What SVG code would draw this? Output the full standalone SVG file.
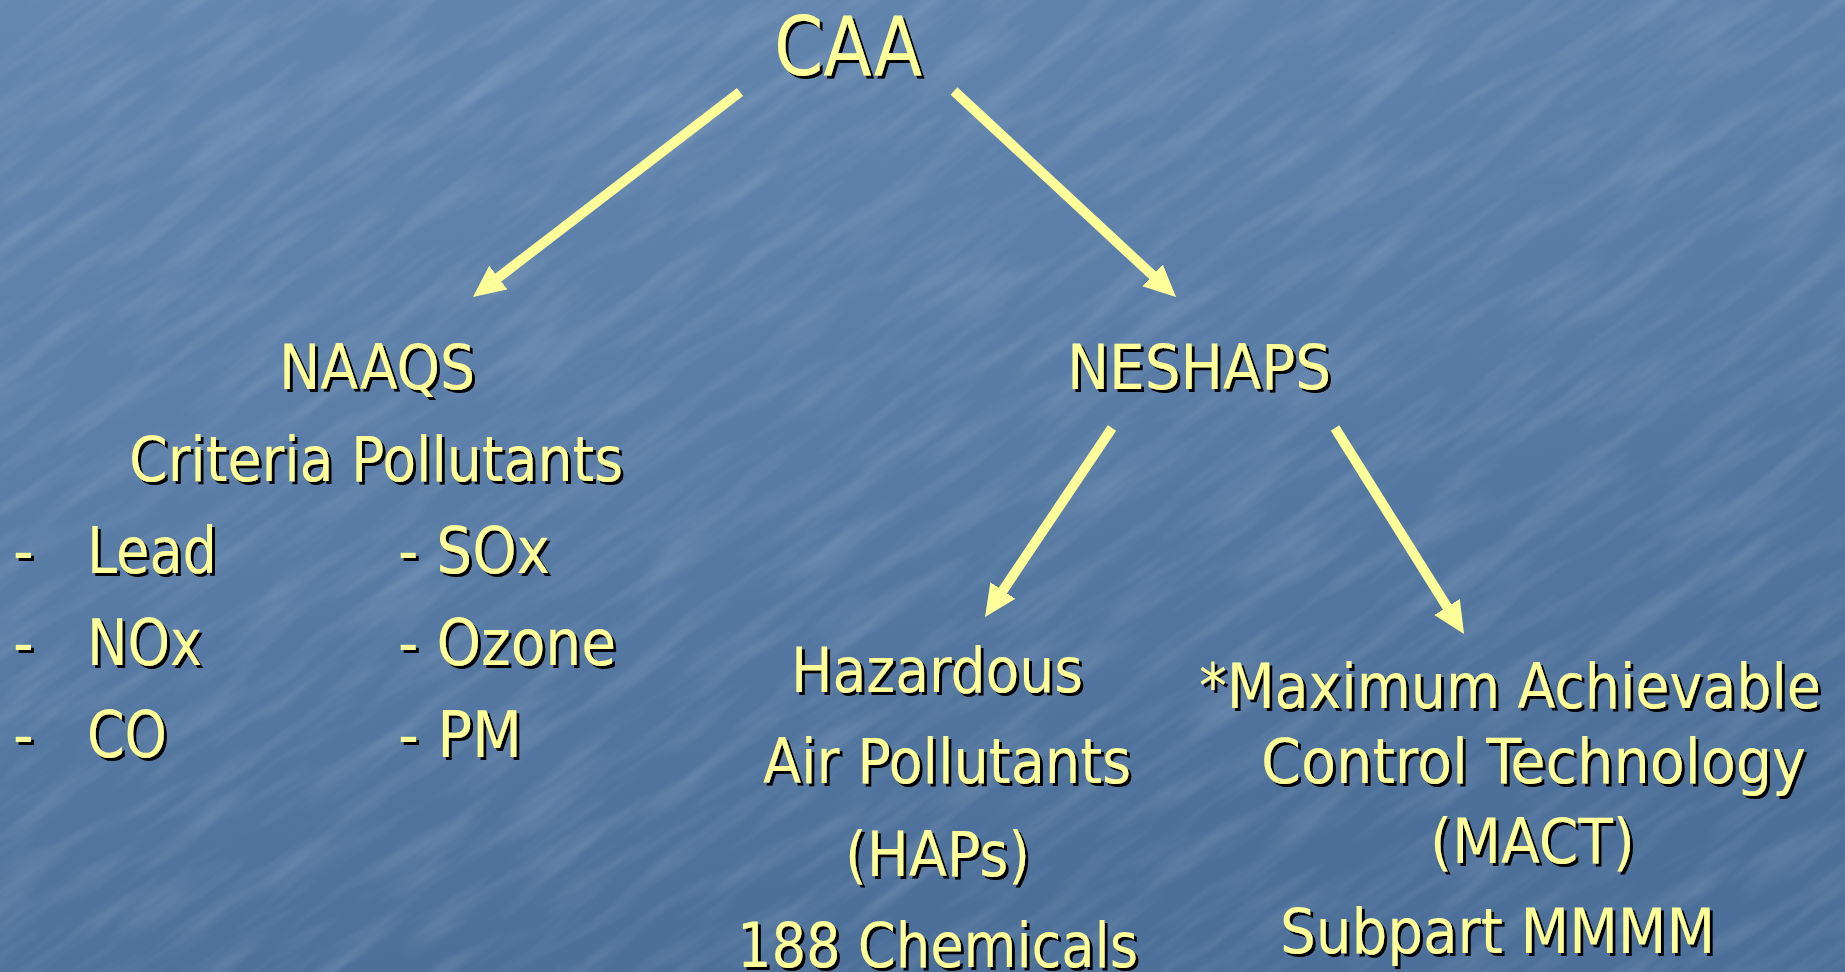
<svg xmlns="http://www.w3.org/2000/svg" width="1845" height="972" viewBox="0 0 1845 972">
<defs>
<linearGradient id="bg" x1="0" y1="0" x2="0.35" y2="1">
<stop offset="0" stop-color="#6487b0"/>
<stop offset="0.5" stop-color="#597da7"/>
<stop offset="1" stop-color="#4b6f99"/>
</linearGradient>
<filter id="tex" x="0" y="0" width="100%" height="100%">
<feTurbulence type="fractalNoise" baseFrequency="0.008 0.05" numOctaves="3" seed="7"/>
<feColorMatrix type="matrix" values="0 0 0 0 1  0 0 0 0 1  0 0 0 0 1  0.6 0 0 0 -0.25"/>
</filter>
<filter id="sh" x="-5%" y="-10%" width="115%" height="130%">
<feDropShadow dx="3" dy="3" stdDeviation="0" flood-color="#000" flood-opacity="1"/>
</filter>
<marker id="ah" markerUnits="userSpaceOnUse" markerWidth="34" markerHeight="32" refX="8" refY="15" orient="auto">
<path d="M0,0 L32,15 L0,30 z" fill="#ffff99"/>
</marker>
<style>
.t{font-family:"DejaVu Sans Condensed","DejaVu Sans","Liberation Sans",sans-serif;font-stretch:condensed;fill:#ffff99;filter:url(#sh);font-size:62px;}
.big{font-size:82px;}
.li{font-size:64px;}
.c line{stroke:#ffff99;stroke-width:10;marker-end:url(#ah);}
</style>
</defs>
<rect width="1845" height="972" fill="url(#bg)"/>
<g transform="rotate(-35 922 486)" opacity="0.45">
<rect x="-400" y="-600" width="2645" height="2172" filter="url(#tex)"/>
</g>
<g class="c" id="connectors">
<line x1="740" y1="92" x2="492" y2="282.4"/>
<line x1="954" y1="91" x2="1158.4" y2="280.7"/>
<line x1="1112" y1="428" x2="998.4" y2="597.1"/>
<line x1="1335" y1="428" x2="1451.3" y2="613.7"/>
</g>
<g id="caa"><text class="t big" x="774" y="75" textLength="148" lengthAdjust="spacingAndGlyphs">CAA</text></g>
<g id="naaqs">
<text class="t" x="279" y="389" textLength="196" lengthAdjust="spacingAndGlyphs">NAAQS</text>
<text class="t" x="129" y="481" textLength="494" lengthAdjust="spacingAndGlyphs">Criteria Pollutants</text>
<text class="t li" x="13" y="573">-</text>
<text class="t li" x="87" y="573" textLength="130" lengthAdjust="spacingAndGlyphs">Lead</text>
<text class="t li" x="13" y="665">-</text>
<text class="t li" x="87" y="665" textLength="115" lengthAdjust="spacingAndGlyphs">NOx</text>
<text class="t li" x="13" y="757">-</text>
<text class="t li" x="87" y="757" textLength="80" lengthAdjust="spacingAndGlyphs">CO</text>
<text class="t li" x="398" y="573" textLength="152" lengthAdjust="spacingAndGlyphs">- SOx</text>
<text class="t li" x="398" y="665" textLength="218" lengthAdjust="spacingAndGlyphs">- Ozone</text>
<text class="t li" x="398" y="757" textLength="124" lengthAdjust="spacingAndGlyphs">- PM</text>
</g>
<g id="neshaps"><text class="t" x="1067" y="389" textLength="264" lengthAdjust="spacingAndGlyphs">NESHAPS</text></g>
<g id="haps">
<text class="t" x="791" y="692" textLength="292" lengthAdjust="spacingAndGlyphs">Hazardous</text>
<text class="t" x="763" y="783" textLength="368" lengthAdjust="spacingAndGlyphs">Air Pollutants</text>
<text class="t" x="845" y="876" textLength="185" lengthAdjust="spacingAndGlyphs">(HAPs)</text>
<text class="t" x="737" y="967" textLength="401" lengthAdjust="spacingAndGlyphs">188 Chemicals</text>
</g>
<g id="mact">
<text class="t" x="1199" y="708" textLength="622" lengthAdjust="spacingAndGlyphs">*Maximum Achievable</text>
<text class="t" x="1261" y="783" textLength="545" lengthAdjust="spacingAndGlyphs">Control Technology</text>
<text class="t" x="1430" y="863" textLength="205" lengthAdjust="spacingAndGlyphs">(MACT)</text>
<text class="t" x="1280" y="953" textLength="435" lengthAdjust="spacingAndGlyphs">Subpart MMMM</text>
</g>
</svg>
